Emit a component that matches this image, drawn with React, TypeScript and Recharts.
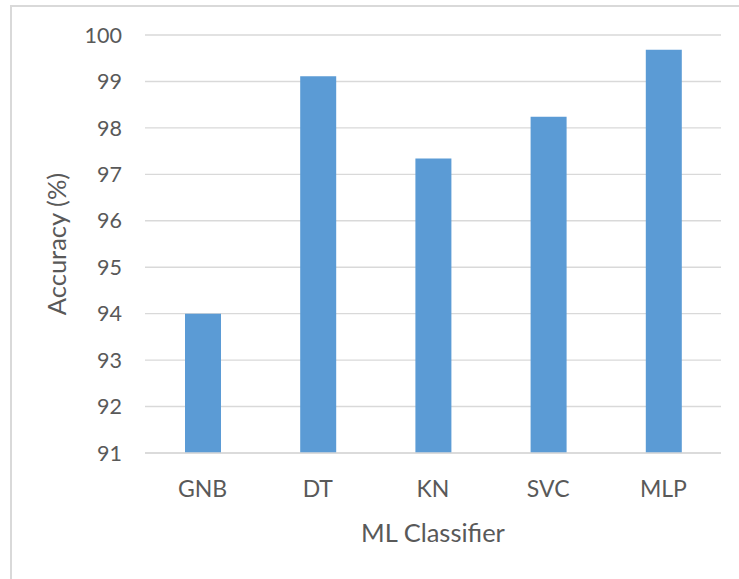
import { BarChart, Bar, CartesianGrid, XAxis, YAxis } from 'recharts';

const classifiers = ['GNB', 'DT', 'KN', 'SVC', 'MLP'];
const accuracy = [94.0, 99.11, 97.34, 98.24, 99.68];
const yTicks = [91, 92, 93, 94, 95, 96, 97, 98, 99, 100];

const data = classifiers.map((name, i) => ({ name, accuracy: accuracy[i] }));

const textColor = '#595959';
const gridColor = '#D9D9D9';
const font = 'Lato, "Open Sans", sans-serif';

export default function App() {
  return (
    <div style={{ position: 'absolute', left: 0, top: 0, width: 739, height: 579, overflow: 'hidden', background: '#fff' }}>
      <div
        style={{
          position: 'absolute',
          left: 10,
          top: 5,
          width: 760,
          height: 600,
          border: `2px solid ${gridColor}`,
          boxSizing: 'border-box',
        }}
      />
      <div style={{ position: 'absolute', left: 0, top: 0 }}>
        <BarChart
          width={739}
          height={579}
          data={data}
          margin={{ top: 35, right: 18, bottom: 26, left: 0 }}
          style={{ fontFamily: font }}
        >
          <CartesianGrid vertical={false} stroke={gridColor} strokeWidth={1.4} />
          <XAxis
            dataKey="name"
            height={100}
            axisLine={{ stroke: gridColor, strokeWidth: 1.4 }}
            tickLine={false}
            tickSize={0}
            tickMargin={28}
            tick={{ fill: textColor, fontSize: 23, fontFamily: font }}
            label={{ value: 'ML Classifier', position: 'insideBottom', offset: 11, fill: textColor, fontSize: 25.5, fontFamily: font }}
          />
          <YAxis
            width={145}
            domain={[91, 100]}
            ticks={yTicks}
            interval={0}
            axisLine={false}
            tickLine={false}
            tickSize={0}
            tickMargin={23}
            tick={{ fill: textColor, fontSize: 21.5, fontFamily: font }}
            label={{ value: 'Accuracy (%)', angle: -90, position: 'center', dx: -16, fill: textColor, fontSize: 25.5, fontFamily: font }}
          />
          <Bar dataKey="accuracy" fill="#5B9BD5" barSize={36} isAnimationActive={false} />
        </BarChart>
      </div>
    </div>
  );
}
